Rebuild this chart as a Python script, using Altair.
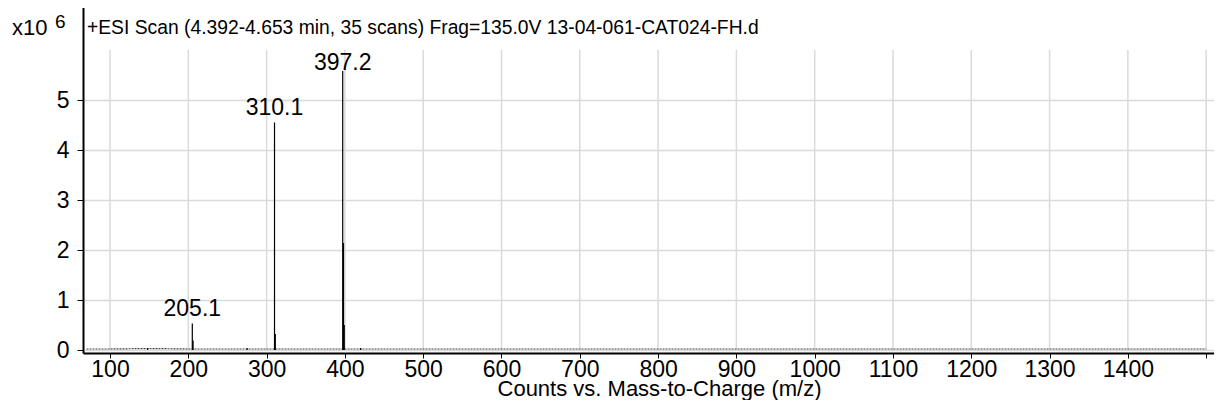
import altair as alt
import pandas as pd

# Stick spectrum (intensity in units of 1e6 counts)
peak_mz = [148.1, 205.1, 206.1, 275.1, 310.1, 311.1, 397.2, 398.2, 399.2, 420.2]
peak_int = [0.04, 0.53, 0.19, 0.04, 4.55, 0.32, 5.58, 2.14, 0.50, 0.04]

# Labelled peaks
label_mz = [205.1, 310.1, 397.2]
label_int = [0.53, 4.55, 5.58]
label_text = ["205.1", "310.1", "397.2"]

# Low-level baseline noise
base_mz = [70, 100, 150, 200, 250, 300, 350, 400, 450, 500, 600, 700, 800,
           900, 1000, 1100, 1200, 1300, 1400, 1500]
base_int = [0.02, 0.02, 0.03, 0.02, 0.02, 0.02, 0.02, 0.02, 0.02, 0.02, 0.02,
            0.02, 0.02, 0.02, 0.02, 0.02, 0.02, 0.02, 0.02, 0.02]

x_ticks = [100, 200, 300, 400, 500, 600, 700, 800, 900, 1000, 1100, 1200, 1300, 1400, 1500]
y_ticks = [0, 1, 2, 3, 4, 5]
grid_top = 6

title_text = "+ESI Scan (4.392-4.653 min, 35 scans) Frag=135.0V 13-04-061-CAT024-FH.d"
x_title = "Counts vs. Mass-to-Charge (m/z)"

FONT = "Liberation Sans"
W, H = 1131, 348

peaks = pd.DataFrame({"mz": peak_mz, "inten": peak_int, "zero": [0] * len(peak_mz)})
labels = pd.DataFrame({"mz": label_mz, "inten": label_int, "text": label_text})
base = pd.DataFrame({"mz": base_mz, "inten": base_int})
vgrid = pd.DataFrame({"mz": x_ticks, "lo": [0] * len(x_ticks), "hi": [grid_top] * len(x_ticks)})

xs = alt.Scale(domain=[65.5, 1510], nice=False, zero=False)
ys = alt.Scale(domain=[-0.06, 6.9], nice=False, zero=False)

xaxis = alt.Axis(values=x_ticks, grid=False, format="d", labelFont=FONT, labelFontSize=23,
                 labelColor="black", labelExpr="datum.value == 1500 ? '' : datum.label",
                 domainColor="black", domainWidth=2, tickColor="black", tickSize=5,
                 labelPadding=0, title=x_title, titleFont=FONT, titleFontSize=22,
                 titleFontWeight="normal", titleColor="black",
                 titleX=576, titleY=42, titleAlign="center", titleBaseline="alphabetic",
                 labelFlush=False, labelOverlap=False)
yaxis = alt.Axis(values=y_ticks, grid=True, gridColor="#dadada", gridWidth=1.5,
                 labelFont=FONT, labelFontSize=23, labelColor="black",
                 domainColor="black", domainWidth=2, tickColor="black", tickSize=6,
                 labelPadding=8, title=None, labelFlush=False)

grid_layer = alt.Chart(vgrid).mark_rule(color="#dadada", strokeWidth=1.5).encode(
    x=alt.X("mz:Q", scale=xs, axis=xaxis),
    y=alt.Y("lo:Q", scale=ys, axis=yaxis),
    y2="hi:Q",
)

base_layer = alt.Chart(base).mark_line(color="#444444", strokeWidth=1.2, strokeDash=[2, 1]).encode(
    x=alt.X("mz:Q", scale=xs), y=alt.Y("inten:Q", scale=ys)
)

stick_layer = alt.Chart(peaks).mark_rule(color="black", strokeWidth=1.2).encode(
    x=alt.X("mz:Q", scale=xs), y=alt.Y("zero:Q", scale=ys), y2="inten:Q"
)

lab_low = alt.Chart(labels).transform_filter("datum.inten < 5").mark_text(
    font=FONT, fontSize=23, baseline="alphabetic", align="center", dy=-8, color="black"
).encode(x=alt.X("mz:Q", scale=xs), y=alt.Y("inten:Q", scale=ys), text="text:N")

lab_high = alt.Chart(labels).transform_filter("datum.inten >= 5").mark_text(
    font=FONT, fontSize=23, baseline="alphabetic", align="center", dy=-1, color="black"
).encode(x=alt.X("mz:Q", scale=xs), y=alt.Y("inten:Q", scale=ys), text="text:N")

frame_top = alt.Chart(pd.DataFrame({"a": [0]})).mark_rule(color="black", strokeWidth=2).encode(
    x=alt.value(0), x2=alt.value(W), y=alt.value(1)
)

title_layer = alt.Chart(pd.DataFrame({"t": [title_text]})).mark_text(
    font=FONT, fontSize=19.3, align="left", baseline="middle", color="black"
).encode(x=alt.value(4), y=alt.value(23), text="t:N")

x10_layer = alt.Chart(pd.DataFrame({"t": ["x10"]})).mark_text(
    font=FONT, fontSize=22, align="left", baseline="alphabetic", color="black"
).encode(x=alt.value(-71), y=alt.value(30), text="t:N")

exp_layer = alt.Chart(pd.DataFrame({"t": ["6"]})).mark_text(
    font=FONT, fontSize=19, align="left", baseline="alphabetic", color="black"
).encode(x=alt.value(-28), y=alt.value(23), text="t:N")

chart = alt.layer(
    grid_layer, base_layer, stick_layer, lab_low, lab_high,
    frame_top, title_layer, x10_layer, exp_layer
).properties(
    width=W, height=H,
    autosize=alt.AutoSizeParams(type="none"),
    padding={"left": 75, "right": 0, "top": -3, "bottom": 47},
    background="white",
).configure_view(strokeWidth=0)

chart.save("out.html", embed_options={"renderer": "svg", "actions": False})
